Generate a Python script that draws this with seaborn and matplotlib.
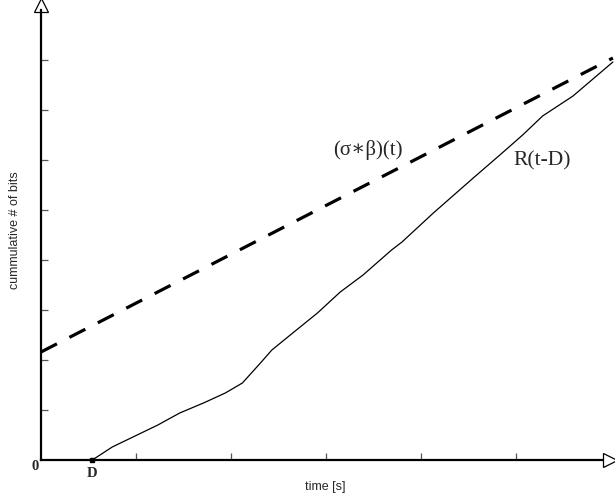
import matplotlib
matplotlib.use("Agg")
import matplotlib.pyplot as plt
import seaborn as sns
import pandas as pd

# curve (x: time ticks, y: bit ticks)
r_t = [0.54, 0.75, 0.99, 1.23, 1.46, 1.71, 1.94, 2.12, 2.31, 2.43, 2.65, 2.91,
       3.15, 3.39, 3.69, 3.80, 4.13, 4.55, 4.83, 5.07, 5.28, 5.60, 6.02]
r_bits = [0.0, 0.26, 0.48, 0.70, 0.94, 1.14, 1.34, 1.54, 1.94, 2.20, 2.54, 2.94,
          3.36, 3.70, 4.20, 4.36, 4.94, 5.64, 6.10, 6.50, 6.88, 7.28, 7.96]
env_t = [0.0, 6.02]
env_bits = [2.16, 8.04]
delay = 0.54

sns.set_style("white")
plt.rcParams['font.family'] = ['Liberation Serif', 'DejaVu Serif']

fig = plt.figure(figsize=(6.15, 4.99), dpi=100)
ax = fig.add_axes([41 / 615, 39 / 499, 570 / 615, 460 / 499])

df_r = pd.DataFrame({'t': r_t, 'bits': r_bits})
df_env = pd.DataFrame({'t': env_t, 'bits': env_bits})
sns.lineplot(data=df_env, x='t', y='bits', ax=ax, color='black', lw=2.3,
             clip_on=False).lines[0].set_dashes((5.6, 4.4))
sns.lineplot(data=df_r, x='t', y='bits', ax=ax, color='black', lw=0.9, clip_on=False)

ax.set_xlim(0, 6.0)
ax.set_ylim(0, 9.2)
for s in ['top', 'right']:
    ax.spines[s].set_visible(False)
ax.spines['left'].set_bounds(0, 9.0)
ax.spines['bottom'].set_bounds(0, 5.9)
for s in ['left', 'bottom']:
    ax.spines[s].set_linewidth(1.6)
    ax.spines[s].set_color('black')

# arrow heads
ax.plot([0], [9.1], marker='^', ms=10, mfc='white', mec='black', mew=0.9, clip_on=False)
ax.plot([5.99], [0], marker='>', ms=10, mfc='white', mec='black', mew=0.9, clip_on=False)
ax.plot([delay], [0], marker='s', ms=2.5, color='black', clip_on=False)

ax.set_xticks([1, 2, 3, 4, 5])
ax.set_yticks([1, 2, 3, 4, 5, 6, 7, 8])
ax.set_xticklabels([])
ax.set_yticklabels([])
ax.tick_params(bottom=True, left=True, direction='in', length=5, width=0.9,
               color='#555555')
ax.set_xlabel('')
ax.set_ylabel('')

ax.text(3.44, 6.2, '(σ∗β)(t)', fontsize=15, ha='center', va='center')
ax.text(5.28, 5.98, 'R(t-D)', fontsize=15.5, ha='center', va='center')
ax.text(-0.063, -0.12, '0', fontsize=10.5, fontweight='bold', ha='center', va='center')
ax.text(delay, -0.27, 'D', fontsize=10.5, fontweight='bold', ha='center', va='center')
ax.text(2.99, -0.54, 'time [s]', fontsize=9, family='Liberation Sans',
        ha='center', va='center')
ax.text(-0.27, 4.6, 'cummulative # of bits', fontsize=9, family='Liberation Sans',
        rotation=90, ha='center', va='center')

fig.savefig('out.png', dpi=100)
